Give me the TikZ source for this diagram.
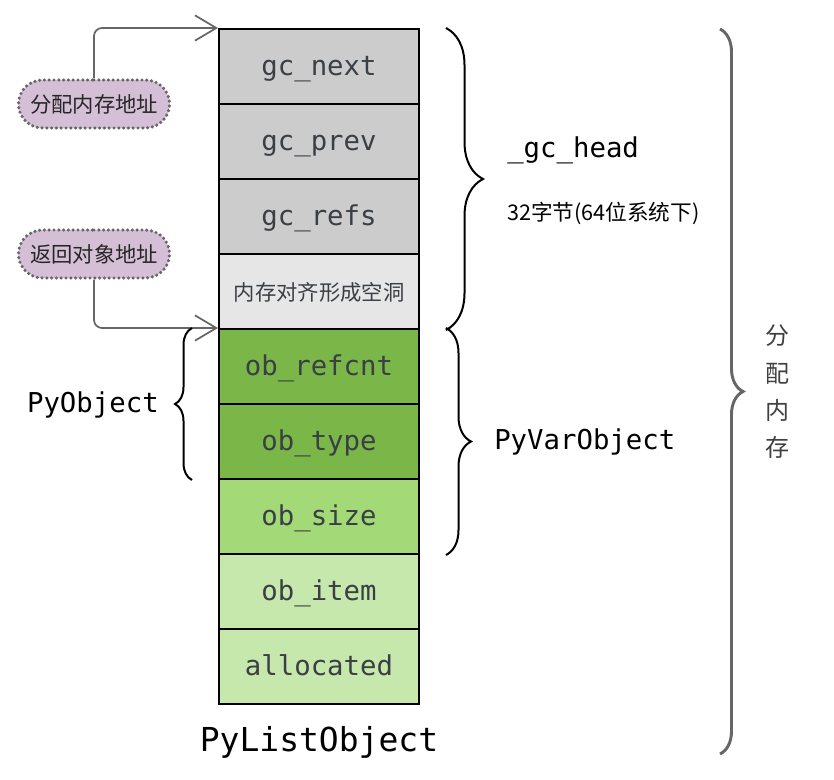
\documentclass[tikz,border=0pt]{standalone}
\usepackage{fontspec}
\setmonofont{DejaVu Sans Mono}
\newfontfamily\cjk{Noto Sans CJK SC}
\usetikzlibrary{positioning}
\usetikzlibrary{shapes.misc}
\usetikzlibrary{arrows.meta}
\usetikzlibrary{decorations.pathreplacing}
\definecolor{gcgray}{HTML}{CCCCCC}
\definecolor{holegray}{HTML}{E6E6E6}
\definecolor{obdark}{HTML}{7AB648}
\definecolor{obmid}{HTML}{A3D977}
\definecolor{oblight}{HTML}{C7E8AC}
\definecolor{pillfill}{HTML}{D5BFD6}
\definecolor{linegray}{HTML}{666666}
\definecolor{txtgray}{HTML}{3A3F45}
\tikzset{
	every node/.style = {font=\ttfamily\fontsize{20.5}{24}\selectfont},
	cell/.style = {draw=black, line width=1.5pt, minimum width=150pt, minimum height=56.25pt, inner sep=0pt, text height=15pt, text depth=2.2pt, text=txtgray},
	pill/.style = {rounded rectangle, fill=pillfill, draw=linegray, line width=2.6pt, dash pattern=on 0pt off 3.6pt, line cap=round, minimum width=120pt, minimum height=36pt, font=\cjk\fontsize{16}{19}\selectfont, text=black!85},
	pointer/.style = {draw=linegray, line width=1.3pt, rounded corners=6pt, -{Straight Barb[length=16pt,width=19pt]}},
	curly/.style = {decorate, decoration={brace, amplitude=#1}, line width=1.5pt},
	tag/.style = {inner sep=0pt}
}

\begin{document}
\begin{tikzpicture}[x=0.75pt, y=-0.75pt]
		\useasboundingbox (0,0) rectangle (834,779);
		% gc head
		\node[cell, fill=gcgray] (gcnext) at (319,66.5) {gc\_next};
		\node[cell, fill=gcgray] (gcprev) at (319,141.5) {gc\_prev};
		\node[cell, fill=gcgray] (gcrefs) at (319,216.5) {gc\_refs};
		\node[cell, fill=holegray, font=\cjk\fontsize{16}{19}\selectfont] (hole) at (319,291.5) {内存对齐形成空洞};
		% object
		\node[cell, fill=obdark] (refcnt) at (319,366.5) {ob\_refcnt};
		\node[cell, fill=obdark] (type) at (319,441.5) {ob\_type};
		\node[cell, fill=obmid] (size) at (319,516.5) {ob\_size};
		\node[cell, fill=oblight] (item) at (319,591.5) {ob\_item};
		\node[cell, fill=oblight] (alloc) at (319,666.5) {allocated};
		\node (listlbl) at (319,742) {\fontsize{24.75}{28}\selectfont PyListObject};
		
		% addresses
		\node[pill] (memaddr) at (94,104) {分配内存地址};
		\node[pill] (objaddr) at (94,254) {返回对象地址};
		\draw[pointer] (memaddr.north) |- (gcnext.north west);
		\draw[pointer] (objaddr.south) |- (refcnt.north west);
		
		% braces
		\draw[curly=27.75pt] ([xshift=19.5pt]gcnext.north east) -- ([xshift=19.5pt]hole.south east);
		\draw[curly=18.75pt] ([xshift=19.5pt]refcnt.north east) -- ([xshift=19.5pt]size.south east);
		\draw[curly=12.75pt] ([xshift=-19.5pt]type.south west) -- ([xshift=-19.5pt]refcnt.north west);
		\coordinate (memtop) at (720,29);
		\coordinate (membot) at (720,754);
		\draw[curly=17.25pt, draw=linegray, line width=2.2pt] (memtop) -- (membot);
		
		% labels
		\node[tag, anchor=west] (headlbl) at (507,150) {\_gc\_head};
		\node[tag, anchor=west, font=\cjk\fontsize{16.2}{19}\selectfont] (sizelbl) at (507,213) {32字节(64位系统下)};
		\node[tag, anchor=west] (varlbl) at (494,442) {PyVarObject};
		\node[tag, anchor=east] (objlbl) at (159,405) {PyObject};
		\node[tag, align=center, text=black!75, font=\cjk\fontsize{18}{28}\selectfont] (memlbl) at (777,392) {分\\配\\内\\存};
	\end{tikzpicture}
\end{document}
